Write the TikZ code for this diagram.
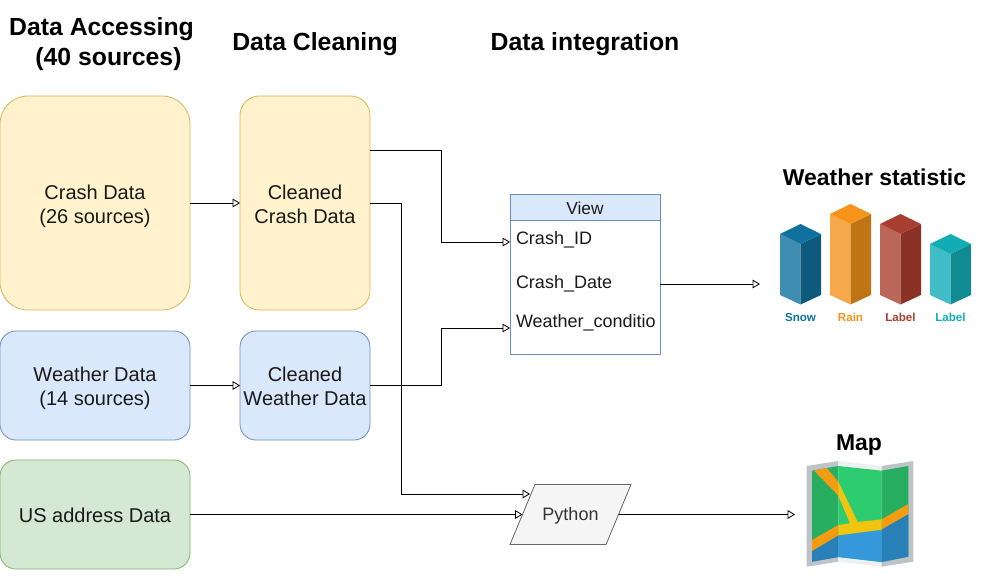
\documentclass[tikz,border=0pt]{standalone}
\usepackage{fontspec}
\setmainfont{Liberation Sans}
\usetikzlibrary{arrows.meta, positioning, calc, shapes.geometric}

\definecolor{ylfill}{HTML}{FFF2CC}
\definecolor{yldraw}{HTML}{D6B656}
\definecolor{blfill}{HTML}{DAE8FC}
\definecolor{bldraw}{HTML}{6C8EBF}
\definecolor{grfill}{HTML}{D5E8D4}
\definecolor{grdraw}{HTML}{82B366}
\definecolor{txt}{HTML}{1A1A1A}

\begin{document}
\begin{tikzpicture}[
          x=0.75pt, y=-0.75pt,
          >={Triangle[open, length=5.5pt, width=6.5pt]},
          every node/.style={outer sep=0pt, inner sep=0pt, text=txt, font=\fontsize{15pt}{18pt}\selectfont},
          source/.style={draw, rounded corners=#1, align=center, line width=0.6pt},
          boxtext/.style={text height=#1, text depth=4pt},
          wide/.style={minimum width=142.5pt},
          narrow/.style={minimum width=97.5pt},
          crashbox/.style={fill=ylfill, draw=yldraw, minimum height=160.5pt, boxtext=34.7pt},
          wthrbox/.style={fill=blfill, draw=bldraw, minimum height=81.75pt, boxtext=34.7pt},
          addrbox/.style={fill=grfill, draw=grdraw, minimum height=81.75pt, boxtext=16.7pt},
          heading/.style={font=\fontsize{18.6pt}{22.5pt}\selectfont\bfseries, text=black, align=center},
          subhead/.style={heading, font=\fontsize{17.2pt}{20pt}\selectfont\bfseries},
          field/.style={anchor=west, font=\fontsize{13.5pt}{16pt}\selectfont},
          barlabel/.style={font=\fontsize{8.7pt}{10pt}\selectfont\bfseries},
          flow/.style={->, draw=black, line width=0.6pt}
        ]
        \useasboundingbox (0,0) rectangle (990,579);

        % headings
        \node [heading] (headaccess) at (101.5,44) {Data Accessing\\\hspace*{10.5pt}(40 sources)};
        \node [heading] (headclean) at (315,44.5) {Data Cleaning};
        \node [heading] (headinteg) at (585,44.5) {Data integration};
        \node [subhead] (headstat) at (874.5,177) {Weather statistic};
        \node [subhead] (headmap) at (859,445) {Map};

        % sources
        \node [source=21pt, wide, crashbox] (crash) at (95,203) {Crash Data\\(26 sources)};
        \node [source=14.5pt, narrow, crashbox, right=37.5pt of crash] (cleancrash) {Cleaned\\Crash Data};
        \node [source=12pt, wide, wthrbox] (wthr) at (95,385.5) {Weather Data\\(14 sources)};
        \node [source=12pt, narrow, wthrbox, right=37.5pt of wthr] (cleanwthr) {Cleaned\\Weather Data};
        \node [source=12pt, wide, addrbox] (addr) at (95,514.5) {US address Data};

        % view table
        \node [draw=bldraw, fill=white, line width=0.6pt, minimum width=112.5pt, minimum height=120pt] (view) at (585,274) {};
        \node [draw=bldraw, fill=blfill, line width=0.6pt, minimum width=112.5pt, minimum height=19.5pt, anchor=north,
               execute at begin node={\rule{0pt}{11.5pt}},
               font=\fontsize{13pt}{16pt}\selectfont] (viewhead) at (view.north) {View};
        \node [field] (crashid) at (516,240) {Crash\_ID};
        \node [field] (crashdate) at (516,284) {Crash\_Date};
        \node [field] (wthrcond) at (516,323) {Weather\_conditio};

        % python step
        \node [draw=black!60, fill=black!4, trapezium, trapezium left angle=67.4, trapezium right angle=112.6,
               trapezium stretches body=true, minimum width=90.75pt, inner ysep=15pt, line width=0.6pt,
               execute at begin node={\rule{0pt}{12pt}}, execute at end node={\rule[-3pt]{0pt}{3pt}},
               text=black!80, font=\fontsize{13.5pt}{16pt}\selectfont] (python) at (570.5,514.5) {Python};

        \coordinate (statin) at (760,284);
        \coordinate (mapin) at (795,514.5);
        \coordinate (pyin) at (530,494);

        % connectors
        \draw [flow] (crash.east) -- (cleancrash.west);
        \draw [flow] (wthr.east) -- (cleanwthr.west);
        \draw [flow] (cleancrash.east |- 0,150) -- (441,150) |- (view.west |- 0,242);
        \draw [flow] (cleanwthr.east) -- (441,385.5) |- (view.west |- 0,328);
        \draw [flow] (cleancrash.east) -- (401,203) |- (pyin);
        \draw [flow] (addr.east |- python) -- (python);
        \draw [flow] (python) -- (mapin);
        \draw [flow] (view.east |- statin) -- (statin);

        % bars
        \foreach \bx/\btop/\cfront/\cside/\ccap/\btext/\bname in {
            780/224/3F8DB0/0E5A7D/10719E/Snow/snow,
            830/204/F5A94A/C07515/F5931B/Rain/rain,
            880/214/BC665A/8A3226/A93F30/Label/labela,
            930/234/40BDC6/0F8B91/12ACB5/Label/labelb} {
          \definecolor{cfr}{HTML}{\cfront}
          \definecolor{csd}{HTML}{\cside}
          \definecolor{ccp}{HTML}{\ccap}
          \fill [cfr] (\bx,\btop+10) -- (\bx+20.5,\btop+20) -- (\bx+20.5,304.5) -- (\bx,295) -- cycle;
          \fill [csd] (\bx+20.5,\btop+20) -- (\bx+41,\btop+10) -- (\bx+41,295) -- (\bx+20.5,304.5) -- cycle;
          \fill [ccp] (\bx,\btop+10) -- (\bx+20.5,\btop) -- (\bx+41,\btop+10) -- (\bx+20.5,\btop+20) -- cycle;
          \node [barlabel, text=ccp] (\bname) at (\bx+20.5,317.5) {\btext};
        }

        % map icon, in units of a 3x crop
        \begin{scope}[shift={(790,430)}, x=0.25pt, y=-0.25pt]
          \fill [fill={rgb,255:red,189;green,195;blue,199}] (50,108) -- (145,93) -- (145,395) -- (50,410) -- cycle;
          \fill [fill={rgb,255:red,236;green,240;blue,241}] (145,93) -- (275,108) -- (275,410) -- (145,395) -- cycle;
          \fill [fill={rgb,255:red,189;green,195;blue,199}] (275,108) -- (370,93) -- (370,395) -- (275,410) -- cycle;
          \fill [fill={rgb,255:red,39;green,174;blue,96}] (66,122) -- (145,108) -- (145,381) -- (66,395) -- cycle;
          \fill [fill={rgb,255:red,46;green,204;blue,113}] (145,108) -- (275,122) -- (275,396) -- (145,381) -- cycle;
          \fill [fill={rgb,255:red,39;green,174;blue,96}] (275,122) -- (355,108) -- (355,380) -- (275,396) -- cycle;
          % water
          \fill [fill={rgb,255:red,41;green,128;blue,185}] (66,363) -- (145,316) -- (145,381) -- (66,395) -- cycle;
          \fill [fill={rgb,255:red,52;green,152;blue,219}] (145,316) -- (275,300) -- (275,396) -- (145,381) -- cycle;
          \fill [fill={rgb,255:red,41;green,128;blue,185}] (275,297) -- (355,252) -- (355,380) -- (275,396) -- cycle;
          % roads
          \fill [fill={rgb,255:red,243;green,156;blue,18}] (66,330) -- (145,285) -- (145,316) -- (66,363) -- cycle;
          \fill [fill={rgb,255:red,243;green,156;blue,18}] (275,268) -- (355,222) -- (355,252) -- (275,298) -- cycle;
          \fill [fill={rgb,255:red,243;green,156;blue,18}] (72,122) -- (110,114) -- (145,155) -- (145,197) -- cycle;
          \fill [fill={rgb,255:red,241;green,196;blue,15}] (145,155) -- (203,276) -- (275,268) -- (275,299) -- (145,316) -- (145,285) -- (180,280) -- (145,197) -- cycle;
        \end{scope}
        \end{tikzpicture}
\end{document}
